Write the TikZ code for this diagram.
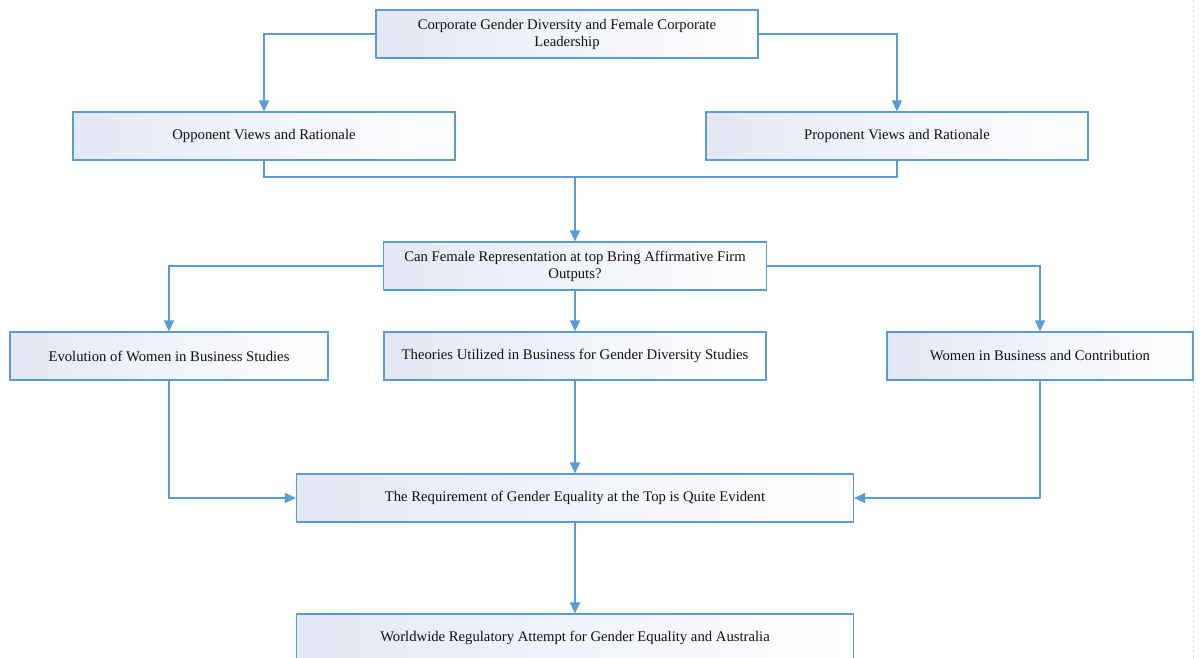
\documentclass[tikz,border=0pt]{standalone}
\usepackage{fontspec}
\setmainfont{Liberation Serif}
\usetikzlibrary{arrows.meta}
\definecolor{linkblue}{HTML}{5B9BD5}
\definecolor{boxfill}{HTML}{E2E8F4}
\definecolor{textgray}{HTML}{111111}
\begin{document}
\begin{tikzpicture}[x=1pt,y=-1pt,
  box/.style={draw=linkblue, line width=1.2pt, left color=boxfill, right color=white,
    minimum height=48pt, inner sep=2pt, align=center, text=textgray,
    font=\fontsize{14.7}{17}\selectfont},
  conn/.style={draw=linkblue, line width=1.5pt},
  arr/.style={conn, -{Triangle[length=11pt,width=10pt]}}]
\useasboundingbox[fill=white] (0,0) rectangle (1200,658);
% faint page edge guide
\draw[gray!25, line width=0.8pt, dash pattern=on 3pt off 2pt] (1193.5,0) -- (1193.5,658);

% boxes
\node[box, minimum width=382pt] (top) at (567,34) {Corporate Gender Diversity and Female Corporate\\Leadership};
\node[box, minimum width=382pt] (opp) at (264,136) {Opponent Views and Rationale};
\node[box, minimum width=382pt] (pro) at (897,136) {Proponent Views and Rationale};
\node[box, minimum width=383pt] (can) at (575,266) {Can Female Representation at top Bring Affirmative Firm\\Outputs?};
\node[box, minimum width=318pt] (evo) at (169,356) {Evolution of Women in Business Studies};
\node[box, minimum width=382pt] (theo) at (575,356) {Theories Utilized in Business for Gender Diversity Studies};
\node[box, minimum width=306pt] (wom) at (1040,356) {Women in Business and Contribution};
\node[box, minimum width=557pt] (req) at (575,498) {The Requirement of Gender Equality at the Top is Quite Evident};
\node[box, minimum width=557pt] (world) at (575,638) {Worldwide Regulatory Attempt for Gender Equality and Australia};

% connectors
\coordinate (join) at (575,177);
\draw[arr] (top.west) -| (opp.north);
\draw[arr] (top.east) -| (pro.north);
\draw[conn] (opp.south) |- (join) -| (pro.south);
\draw[arr] (join) -- (can.north);
\draw[arr] (can.west) -| (evo.north);
\draw[arr] (can.east) -| (wom.north);
\draw[arr] (can.south) -- (theo.north);
\draw[arr] (evo.south) |- (req.west);
\draw[arr] (wom.south) |- (req.east);
\draw[arr] (theo.south) -- (req.north);
\draw[arr] (req.south) -- (world.north);
\end{tikzpicture}
\end{document}
